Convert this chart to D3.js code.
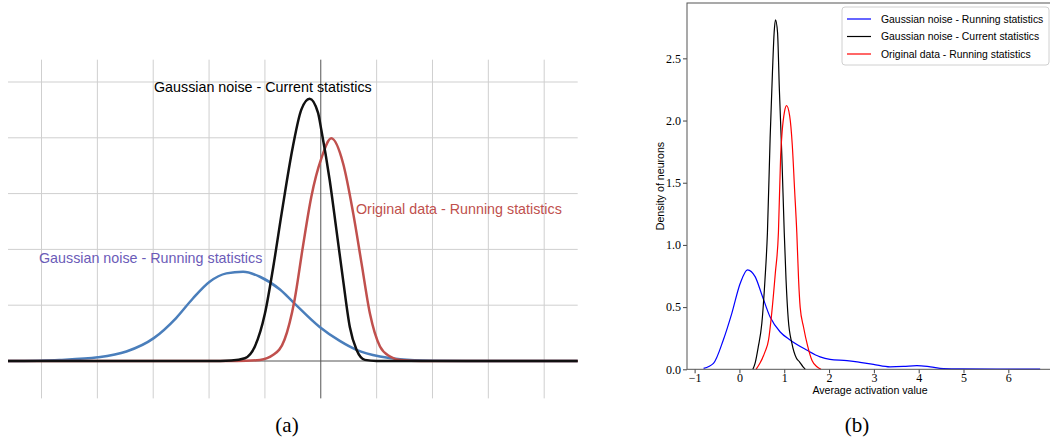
<!DOCTYPE html>
<html lang="en">
<head>
  <meta charset="UTF-8">
  <title>Activation statistics</title>
  <script src="https://d3js.org/d3.v7.min.js"></script>
</head>
<style>
  body{
    margin:0;
    background:white;
  }
  svg{
    display:block;
  }
</style>
<body>
  <div id="chart"></div>
</body>
<script>
// ---- panel (a): sketch curves in grid units ----
var sketchRunX = [-5.6, -4.68, -3.99, -3.48, -2.99, -2.59, -2.29, -1.99, -1.69, -1.39, -1.09, -0.73, -0.5, -0.02, 0.34, 0.64, 1.06, 1.42, 2.0, 2.6, 4.6];
var sketchRunY = [0, 0.02, 0.066, 0.17, 0.41, 0.77, 1.12, 1.42, 1.57, 1.6, 1.51, 1.28, 1.06, 0.61, 0.36, 0.2, 0.08, 0.03, 0.005, 0, 0];
var sketchCurX = [-5.6, -2.0, -1.6, -1.36, -1.18, -1.0, -0.85, -0.7, -0.5, -0.35, -0.2, -0.05, 0.01, 0.16, 0.28, 0.4, 0.52, 0.64, 0.79, 1.0, 4.6];
var sketchCurY = [0, 0, 0.01, 0.05, 0.26, 0.85, 1.69, 2.65, 3.84, 4.5, 4.7, 4.45, 4.14, 3.24, 2.35, 1.45, 0.61, 0.2, 0.02, 0, 0];
var sketchOrigX = [-5.6, -1.5, -1.09, -0.85, -0.65, -0.47, -0.32, -0.17, 0.01, 0.19, 0.4, 0.58, 0.73, 0.88, 1.06, 1.24, 1.42, 1.8, 4.6];
var sketchOrigY = [0, 0, 0.02, 0.11, 0.38, 1.09, 2.05, 2.94, 3.63, 3.99, 3.54, 2.65, 1.75, 0.85, 0.26, 0.08, 0.02, 0, 0];
var gridX = [-5, -4, -3, -2, -1, 1, 2, 3, 4];
var gridY = [1, 2, 3, 4, 5];

// ---- panel (b): density of neurons ----
var seriesNames = ["Gaussian noise - Running statistics", "Gaussian noise - Current statistics", "Original data - Running statistics"];
var densRunX = [-0.8, -0.58, -0.36, -0.17, 0.016, 0.18, 0.35, 0.5, 0.685, 0.91, 1.13, 1.5, 1.8, 2.02, 2.4, 2.69, 2.99, 3.36, 3.66, 3.96, 4.26, 4.55, 4.93, 6.71];
var densRunY = [0.008, 0.048, 0.236, 0.45, 0.69, 0.8, 0.745, 0.6, 0.42, 0.3, 0.236, 0.155, 0.1, 0.08, 0.07, 0.056, 0.04, 0.02, 0.023, 0.03, 0.02, 0.006, 0.003, 0.002];
var densCurX = [0.3, 0.35, 0.42, 0.5, 0.57, 0.625, 0.685, 0.737, 0.775, 0.805, 0.85, 0.89, 0.946, 1.0, 1.04, 1.09, 1.17, 1.27, 1.34, 1.42, 1.47];
var densCurY = [0, 0.05, 0.18, 0.37, 0.72, 1.1, 1.86, 2.39, 2.71, 2.81, 2.71, 2.26, 1.72, 1.1, 0.72, 0.4, 0.21, 0.09, 0.06, 0.02, 0];
var densOrigX = [0.37, 0.46, 0.57, 0.65, 0.72, 0.8, 0.87, 0.92, 0.953, 1.005, 1.05, 1.12, 1.18, 1.23, 1.28, 1.32, 1.355, 1.43, 1.52, 1.62, 1.73, 1.82];
var densOrigY = [0, 0.05, 0.14, 0.236, 0.45, 0.77, 1.1, 1.72, 1.91, 2.07, 2.12, 2.04, 1.8, 1.45, 1.1, 0.72, 0.5, 0.34, 0.19, 0.07, 0.02, 0];
var xTicks = [-1, 0, 1, 2, 3, 4, 5, 6];
var yTicks = [0, 0.5, 1.0, 1.5, 2.0, 2.5];

function pairs(xs, ys){
  return xs.map(function(x, i){ return [x, ys[i]]; });
}

var svg = d3.select("#chart").append("svg")
  .attr("width", 1050)
  .attr("height", 440);

// ================= panel (a) =================
var xL = d3.scaleLinear().domain([-5.6, 4.6]).range([8, 577.7]);
var yL = d3.scaleLinear().domain([0, 5]).range([361, 82]);
var left = svg.append("g");

// grid
left.selectAll(".vgrid").data(gridX).enter().append("line")
  .attr("x1", function(d){ return xL(d); })
  .attr("x2", function(d){ return xL(d); })
  .attr("y1", yL(5.4)).attr("y2", yL(-0.67))
  .attr("stroke", "#cfcfcf").attr("stroke-width", 1);
left.selectAll(".hgrid").data(gridY).enter().append("line")
  .attr("x1", xL(-5.6)).attr("x2", xL(4.6))
  .attr("y1", function(d){ return yL(d); })
  .attr("y2", function(d){ return yL(d); })
  .attr("stroke", "#cfcfcf").attr("stroke-width", 1);
// axes through origin
left.append("line")
  .attr("x1", xL(0)).attr("x2", xL(0))
  .attr("y1", yL(5.4)).attr("y2", yL(-0.67))
  .attr("stroke", "#555").attr("stroke-width", 1);
left.append("line")
  .attr("x1", xL(-5.6)).attr("x2", xL(4.6))
  .attr("y1", yL(0)).attr("y2", yL(0))
  .attr("stroke", "#555").attr("stroke-width", 1);

var lineL = d3.line()
  .x(function(d){ return xL(d[0]); })
  .y(function(d){ return yL(d[1]); })
  .curve(d3.curveMonotoneX);

var sketch = [
  {pts: pairs(sketchRunX, sketchRunY), color: "#4a7ebb"},
  {pts: pairs(sketchOrigX, sketchOrigY), color: "#c0504d"},
  {pts: pairs(sketchCurX, sketchCurY), color: "#111111"}
];
sketch.forEach(function(s){
  left.append("path")
    .attr("d", lineL(s.pts))
    .attr("fill", "none")
    .attr("stroke", s.color)
    .attr("stroke-width", 2.5);
});

// curve labels
var labFont = "'Liberation Sans', Arial, sans-serif";
left.append("text").attr("x", 154).attr("y", 92)
  .attr("font-family", labFont).attr("font-size", "14.3px").attr("fill", "#000")
  .text(seriesNames[1]);
left.append("text").attr("x", 39).attr("y", 263)
  .attr("font-family", labFont).attr("font-size", "14.3px").attr("fill", "#6b5bb8")
  .text(seriesNames[0]);
left.append("text").attr("x", 356).attr("y", 214)
  .attr("font-family", labFont).attr("font-size", "14.3px").attr("fill", "#c0504d")
  .text(seriesNames[2]);

// ================= panel (b) =================
var xR = d3.scaleLinear().domain([-1.17, 6.93]).range([687, 1050]);
var yR = d3.scaleLinear().domain([0, 2.945]).range([369.3, 3]);
var right = svg.append("g");
var serif = "'Liberation Serif', 'DejaVu Serif', serif";
var sans = "'Liberation Sans', Arial, sans-serif";

var lineR = d3.line()
  .x(function(d){ return xR(d[0]); })
  .y(function(d){ return yR(d[1]); })
  .curve(d3.curveMonotoneX);

var dens = [
  {pts: pairs(densRunX, densRunY), color: "#0000ff"},
  {pts: pairs(densCurX, densCurY), color: "#000000"},
  {pts: pairs(densOrigX, densOrigY), color: "#ff0000"}
];
dens.forEach(function(s){
  right.append("path")
    .attr("d", lineR(s.pts))
    .attr("fill", "none")
    .attr("stroke", s.color)
    .attr("stroke-width", 1.2);
});

// axes
var xAxis = d3.axisBottom(xR)
  .tickValues(xTicks)
  .tickSize(4).tickSizeOuter(0).tickPadding(0)
  .tickFormat(function(d){ return d < 0 ? "\u2212" + Math.abs(d) : d; });
var yAxis = d3.axisLeft(yR)
  .tickValues(yTicks)
  .tickSize(4).tickSizeOuter(0).tickPadding(2)
  .tickFormat(d3.format(".1f"));

var gx = right.append("g")
  .attr("transform", "translate(0," + yR(0) + ")")
  .call(xAxis);
var gy = right.append("g")
  .attr("transform", "translate(" + xR(-1.17) + ",0)")
  .call(yAxis);
[gx, gy].forEach(function(g){
  g.select(".domain").remove();
  g.selectAll("line").attr("stroke", "#444");
  g.selectAll("text")
    .attr("font-family", serif)
    .attr("font-size", "12px")
    .attr("fill", "#000");
});

// spines (right spine sits just off the picture)
right.append("rect")
  .attr("x", xR(-1.17)).attr("y", yR(2.945))
  .attr("width", 365).attr("height", yR(0) - yR(2.945))
  .attr("fill", "none").attr("stroke", "#555").attr("stroke-width", 1);

// axis titles
right.append("text")
  .attr("x", 870).attr("y", 393.5)
  .attr("text-anchor", "middle")
  .attr("font-family", sans).attr("font-size", "10.6px")
  .text("Average activation value");
right.append("text")
  .attr("transform", "translate(664,186) rotate(-90)")
  .attr("text-anchor", "middle")
  .attr("font-family", sans).attr("font-size", "10.6px")
  .text("Density of neurons");

// legend
var legend = right.append("g");
legend.append("rect")
  .attr("x", 842).attr("y", 7).attr("width", 207).attr("height", 58).attr("rx", 3)
  .attr("fill", "white").attr("fill-opacity", 0.8)
  .attr("stroke", "#d0d0d0").attr("stroke-width", 1);
var legItems = legend.selectAll(".item")
  .data(dens)
  .enter().append("g")
  .attr("transform", function(d, i){ return "translate(0," + (19 + i * 17.5) + ")"; });
legItems.append("line")
  .attr("x1", 847).attr("x2", 871)
  .attr("stroke", function(d){ return d.color; })
  .attr("stroke-width", 1.2);
legItems.append("text")
  .attr("x", 881).attr("dy", "0.35em")
  .attr("font-family", sans).attr("font-size", "10.4px")
  .text(function(d, i){ return seriesNames[i]; });

// captions
svg.append("text").attr("x", 287).attr("y", 432)
  .attr("text-anchor", "middle").attr("font-family", serif).attr("font-size", "21px")
  .text("(a)");
svg.append("text").attr("x", 857).attr("y", 432)
  .attr("text-anchor", "middle").attr("font-family", serif).attr("font-size", "21px")
  .text("(b)");
</script>
</html>
